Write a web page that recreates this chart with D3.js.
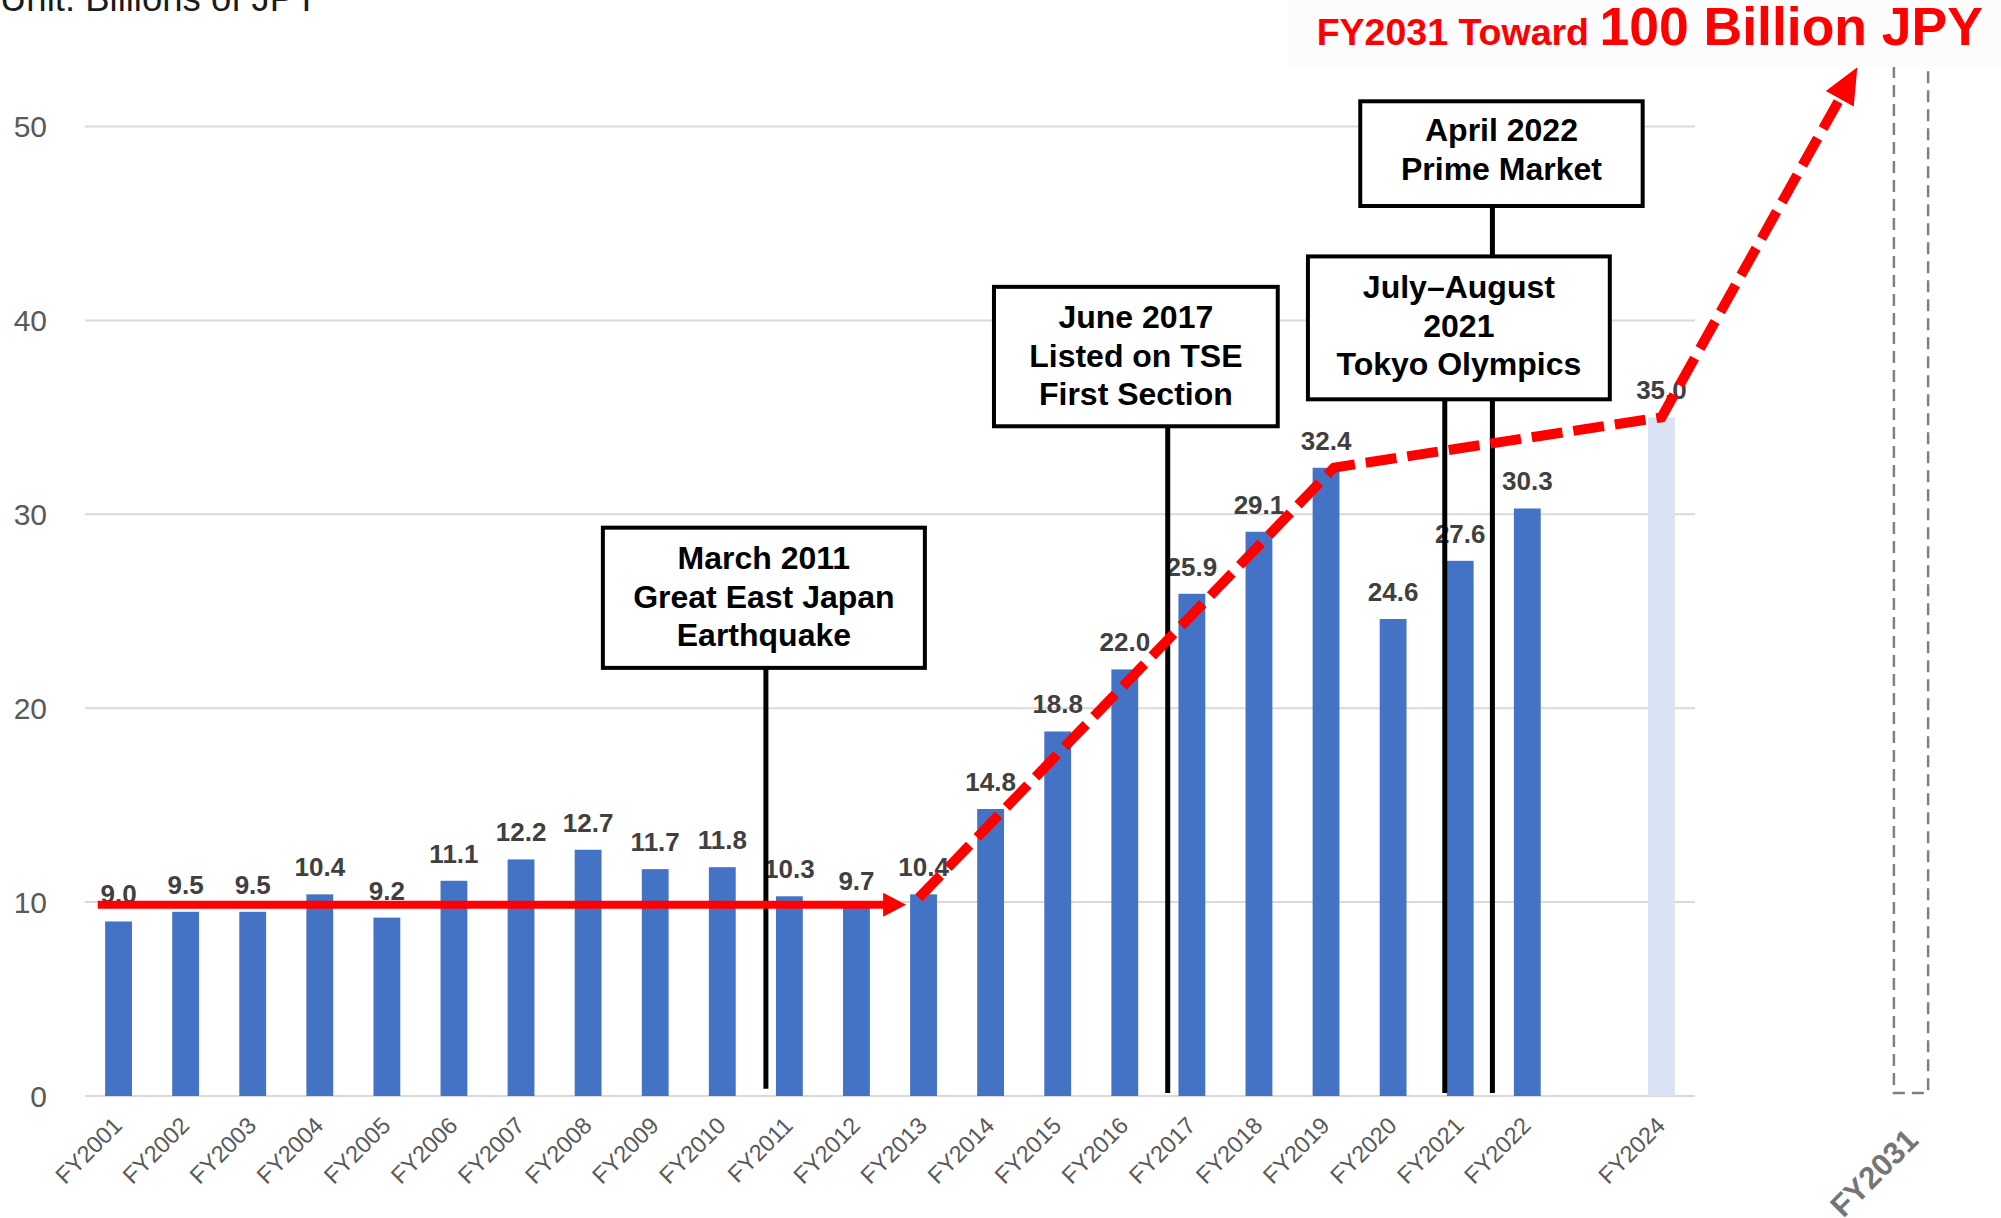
<!DOCTYPE html>
<html>
<head>
<meta charset="utf-8">
<script src="https://cdn.jsdelivr.net/npm/d3@7"></script>
<style>
  body { margin: 0; background: #fff; }
  svg { display: block; font-family: "Liberation Sans", Arial, sans-serif; }
</style>
</head>
<body>
<svg width="2001" height="1218"></svg>
<script>
// data
var categories = ["FY2001", "FY2002", "FY2003", "FY2004", "FY2005", "FY2006", "FY2007", "FY2008",
    "FY2009", "FY2010", "FY2011", "FY2012", "FY2013", "FY2014", "FY2015", "FY2016", "FY2017",
    "FY2018", "FY2019", "FY2020", "FY2021", "FY2022", "FY2023", "FY2024"];
var values = [9.0, 9.5, 9.5, 10.4, 9.2, 11.1, 12.2, 12.7, 11.7, 11.8, 10.3, 9.7, 10.4, 14.8,
    18.8, 22.0, 25.9, 29.1, 32.4, 24.6, 27.6, 30.3, null, 35.0];
var forecastYears = ["FY2024"];
var hiddenTicks = ["FY2023"];
var yTicks = [0, 10, 20, 30, 40, 50];
var targetYear = "FY2031";
var eventLines = [
    ["March 2011", "Great East Japan", "Earthquake"],
    ["June 2017", "Listed on TSE", "First Section"],
    ["July\u2013August", "2021", "Tokyo Olympics"],
    ["April 2022", "Prime Market"]
];
// arrows, in (slot index, value) space
var flatArrow = [[-0.31, 9.86], [11.74, 9.86]];
var growthArrow = [[11.93, 10.22], [18.12, 32.41], [23.0, 35.0], [25.92, 53.05]];

// layout of the event boxes: [left slot, right slot, top value, bottom value] and stems [slot, from, to]
var eventLayout = [
    {box: [7.22, 12.02, 29.31, 22.08], stems: [[9.65, 22.08, 0.37]], shift: 0},
    {box: [13.05, 17.28, 41.73, 34.54], stems: [[15.64, 34.54, 0.16]], shift: 0},
    {box: [17.73, 22.23, 43.3, 35.93], stems: [[19.77, 35.93, 0.16], [20.48, 35.93, 0.16]], shift: -1},
    {box: [18.51, 22.72, 51.3, 45.9], stems: [[20.48, 45.9, 43.3]], shift: -3}
];
var targetSlot = 26.72;

var svg = d3.select("svg"),
    left = 85, right = 1695;

var x = d3.scaleBand()
    .domain(categories)
    .range([left, right])
    .paddingInner(0.6)
    .paddingOuter(0.3);

var y = d3.scaleLinear()
    .domain([0, 50])
    .range([1096, 126.5]);

function slotX(i) { return x(categories[0]) + x.bandwidth() / 2 + i * x.step(); }

// gridlines
svg.append("g").selectAll("line")
    .data(yTicks)
    .enter().append("line")
    .attr("x1", left).attr("x2", right)
    .attr("y1", function(d) { return y(d); })
    .attr("y2", function(d) { return y(d); })
    .attr("stroke", "#d9d9d9")
    .attr("stroke-width", 2);

// y axis labels
svg.append("g").selectAll("text")
    .data(yTicks)
    .enter().append("text")
    .attr("x", 47)
    .attr("y", function(d) { return y(d); })
    .attr("dy", "0.36em")
    .attr("text-anchor", "end")
    .style("font-size", "30px")
    .style("fill", "#595959")
    .text(function(d) { return d; });

// target year dashed box
var tx = slotX(targetSlot), tw = x.step() * 0.51;
svg.append("path")
    .attr("d", "M" + (tx - tw / 2) + ",-10V" + (y(0) - 3) + "H" + (tx + tw / 2) + "V-10")
    .attr("fill", "none")
    .attr("stroke", "#808080")
    .attr("stroke-width", 2.5)
    .attr("stroke-dasharray", "12,7");

// bars
var data = categories.map(function(c, i) { return {cat: c, v: values[i]}; })
    .filter(function(d) { return d.v != null; });

svg.append("g").selectAll("rect")
    .data(data)
    .enter().append("rect")
    .attr("x", function(d) { return x(d.cat); })
    .attr("y", function(d) { return y(d.v); })
    .attr("width", x.bandwidth())
    .attr("height", function(d) { return y(0) - y(d.v); })
    .attr("fill", function(d) { return forecastYears.indexOf(d.cat) >= 0 ? "#dae3f3" : "#4472c4"; });

// value labels
svg.append("g").selectAll("text")
    .data(data)
    .enter().append("text")
    .attr("x", function(d) { return x(d.cat) + x.bandwidth() / 2; })
    .attr("y", function(d) { return y(d.v) - 18; })
    .attr("text-anchor", "middle")
    .style("font-size", "26px")
    .style("font-weight", "bold")
    .style("fill", "#404040")
    .text(function(d) { return d3.format(".1f")(d.v); });

// x axis labels
svg.append("g").selectAll("text")
    .data(categories.filter(function(c) { return hiddenTicks.indexOf(c) < 0; }))
    .enter().append("text")
    .attr("transform", function(d) {
        return "translate(" + (x(d) + x.bandwidth() / 2 + 5) + "," + (y(0) + 31) + ") rotate(-45)";
    })
    .attr("text-anchor", "end")
    .style("font-size", "23.5px")
    .style("fill", "#595959")
    .text(function(d) { return d; });

svg.append("text")
    .attr("transform", "translate(" + (tx + 9) + "," + (y(0) + 46) + ") rotate(-45)")
    .attr("text-anchor", "end")
    .style("font-size", "31px")
    .style("font-weight", "bold")
    .style("fill", "#757575")
    .text(targetYear);

// event boxes and stems
var ev = svg.append("g");
eventLayout.forEach(function(e, i) {
    e.stems.forEach(function(s) {
        ev.append("line")
            .attr("x1", slotX(s[0])).attr("x2", slotX(s[0]))
            .attr("y1", y(s[1])).attr("y2", y(s[2]))
            .attr("stroke", "#000")
            .attr("stroke-width", 5);
    });
    var x0 = slotX(e.box[0]), x1 = slotX(e.box[1]), y0 = y(e.box[2]), y1 = y(e.box[3]);
    ev.append("rect")
        .attr("x", x0).attr("y", y0)
        .attr("width", x1 - x0).attr("height", y1 - y0)
        .attr("fill", "#fff")
        .attr("stroke", "#000")
        .attr("stroke-width", 4);
    var lines = eventLines[i], cy = (y0 + y1) / 2 + e.shift;
    lines.forEach(function(t, j) {
        ev.append("text")
            .attr("x", (x0 + x1) / 2)
            .attr("y", cy + (j - (lines.length - 1) / 2) * 38.5 + 10)
            .attr("text-anchor", "middle")
            .style("font-size", "32px")
            .style("font-weight", "bold")
            .style("fill", "#000")
            .text(t);
    });
});

// red arrows
function pt(p) { return [slotX(p[0]), y(p[1])]; }
function arrowHead(from, to, len, half) {
    var dx = to[0] - from[0], dy = to[1] - from[1], l = Math.sqrt(dx * dx + dy * dy);
    var ux = dx / l, uy = dy / l;
    var bx = to[0] - ux * len, by = to[1] - uy * len;
    return {
        base: [bx, by],
        pts: [[to[0], to[1]], [bx - uy * half, by + ux * half], [bx + uy * half, by - ux * half]]
    };
}

var fa = flatArrow.map(pt);
var faHead = arrowHead(fa[0], fa[1], 23, 12);
svg.append("line")
    .attr("x1", fa[0][0]).attr("y1", fa[0][1])
    .attr("x2", faHead.base[0] + 1).attr("y2", faHead.base[1])
    .attr("stroke", "#ff0000")
    .attr("stroke-width", 8);
svg.append("polygon")
    .attr("points", faHead.pts.map(function(p) { return p.join(","); }).join(" "))
    .attr("fill", "#ff0000");

var ga = growthArrow.map(pt);
var gaHead = arrowHead(ga[2], ga[3], 36, 16);
var gaPath = ga.slice(0, 3).concat([gaHead.base]);
svg.append("path")
    .attr("d", d3.line()(gaPath))
    .attr("fill", "none")
    .attr("stroke", "#ff0000")
    .attr("stroke-width", 10)
    .attr("stroke-dasharray", "31,11");
svg.append("polygon")
    .attr("points", gaHead.pts.map(function(p) { return p.join(","); }).join(" "))
    .attr("fill", "#ff0000");

// titles
svg.append("text")
    .attr("x", 0)
    .attr("y", 11)
    .style("font-size", "36.5px")
    .style("fill", "#1a1a1a")
    .text("Unit: Billions of JPY");

svg.append("rect")
    .attr("x", 1289).attr("y", 0)
    .attr("width", 712).attr("height", 67)
    .attr("fill", "#fcfcfc");

var tt = svg.append("text")
    .attr("x", 1983)
    .attr("y", 45)
    .attr("text-anchor", "end")
    .style("font-weight", "bold")
    .style("fill", "#ff0000");
tt.append("tspan").style("font-size", "37.5px").text("FY2031 Toward ");
tt.append("tspan").style("font-size", "53.5px").text("100 Billion JPY");
</script>
</body>
</html>
